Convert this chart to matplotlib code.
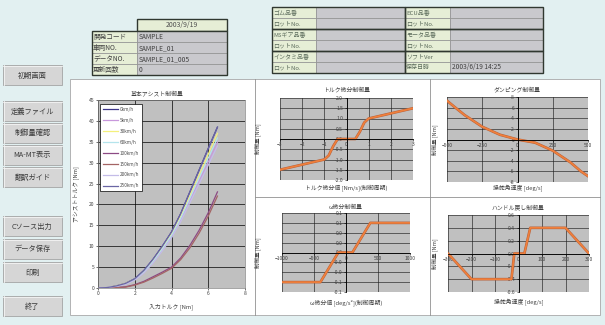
import matplotlib
matplotlib.use('Agg')
import matplotlib.pyplot as plt
import matplotlib.patheffects as pe
from matplotlib.patches import Rectangle
from matplotlib.ticker import FormatStrFormatter

plt.rcParams['font.family'] = ['Noto Sans CJK JP', 'DejaVu Sans']

W, H = 605, 325

# --- data -----------------------------------------------------------------
speed_labels = ['0km/h', '5km/h', '30km/h', '60km/h', '100km/h', '150km/h', '200km/h', '250km/h']
speed_colors = ['#3c3488', '#c898dc', '#f4f07c', '#b4e4ec', '#8c4a84', '#a46464', '#c4bce8', '#6a66a4']
input_torque = [0, 0.5, 1, 1.5, 2, 2.5, 3, 3.5, 4, 4.5, 5, 5.5, 6, 6.5]
assist_0 = [0, 0.1, 0.5, 1.1, 2.2, 4.2, 6.9, 10.0, 13.4, 17.8, 23.0, 28.2, 33.4, 38.5]
assist_5 = [0, 0.1, 0.4, 1.0, 2.0, 3.8, 6.3, 9.2, 12.4, 16.4, 21.0, 25.6, 30.2, 34.9]
assist_30 = [0, 0.1, 0.5, 1.1, 2.1, 4.0, 6.6, 9.6, 12.9, 17.1, 22.0, 27.0, 32.0, 37.0]
assist_60 = [0, 0.1, 0.4, 1.0, 2.0, 3.9, 6.4, 9.4, 12.6, 16.7, 21.5, 26.3, 31.1, 35.9]
assist_100 = [0, 0, 0.1, 0.3, 0.8, 1.6, 2.7, 3.8, 5.0, 7.2, 10.2, 13.8, 18.0, 23.0]
assist_150 = [0, 0, 0.1, 0.2, 0.7, 1.4, 2.4, 3.5, 4.7, 6.8, 9.6, 13.1, 17.2, 22.0]
assist_200 = [0, 0.1, 0.4, 0.9, 1.9, 3.6, 6.0, 8.9, 12.0, 15.9, 20.4, 24.9, 29.4, 34.0]
assist_250 = [0, 0.1, 0.5, 1.1, 2.2, 4.2, 6.9, 10.0, 13.4, 17.8, 23.0, 28.2, 33.4, 38.5]
assist_series = [assist_0, assist_5, assist_30, assist_60, assist_100, assist_150, assist_200, assist_250]

torque_rate = [-3, -2, -1, -0.8, -0.6, -0.4, 0.4, 0.6, 0.8, 1, 2, 3]
torque_rate_ctrl = [-1.5, -1.25, -1.0, -0.8, -0.35, 0, 0, 0.35, 0.8, 1.0, 1.25, 1.5]

damp_speed = [-500, -450, -375, -250, -125, 0, 125, 250, 375, 450, 500]
damp_ctrl = [7.3, 6.2, 4.6, 2.4, 0.9, 0, -0.6, -2.1, -4.3, -6.0, -6.9]

omega_rate = [-1000, -400, -120, 100, 380, 1000]
omega_ctrl = [-0.06, -0.06, 0, 0, 0.06, 0.06]

return_speed = [-300, -200, -30, -18, 25, 50, 200, 300]
return_ctrl = [0, -0.4, -0.4, 0, 0, 0.4, 0.4, 0]

header_rows = ['開発コード', '車両NO.', 'データNO.', '更新回数']
header_vals = ['SAMPLE', 'SAMPLE_01', 'SAMPLE_01_005', '0']
parts_left = ['ゴム品番', 'ロットNo.', 'MSギア品番', 'ロットNo.', 'インタミ品番', 'ロットNo.']
parts_right = ['ECU品番', 'ロットNo.', 'モータ品番', 'ロットNo.', 'ソフトVer', '保存日時']
parts_right_vals = ['', '', '', '', '', '2003/6/19 14:25']
buttons = ['初期画面', '定義ファイル', '制御量確認', 'MA-MT表示', '翻訳ガイド',
           'Cソース出力', 'データ保存', '印刷', '終了']
button_y = [65, 101, 123, 145, 167, 216, 239, 262, 296]


def rect(x0, y0, x1, y1):
    return [x0 / W, 1 - y1 / H, (x1 - x0) / W, (y1 - y0) / H]


fig = plt.figure(figsize=(6.05, 3.25), dpi=100, facecolor='#e2f0f1')

# overlay in pixel coordinates for the form elements
ui = fig.add_axes([0, 0, 1, 1])
ui.set_xlim(0, W)
ui.set_ylim(H, 0)
ui.axis('off')

LABEL_BG = '#e6eed6'
VALUE_BG = '#c9c9cd'

# date + header table
ui.add_patch(Rectangle((137, 19), 90, 12, fc=LABEL_BG, ec='#303830', lw=1.0))
ui.text(182, 25, '2003/9/19', ha='center', va='center', fontsize=5, color='#505050')
for i, (lab, val) in enumerate(zip(header_rows, header_vals)):
    y = 31 + i * 11
    ui.add_patch(Rectangle((92, y), 45, 11, fc=LABEL_BG, ec='#909090', lw=0.5))
    ui.add_patch(Rectangle((137, y), 90, 11, fc=VALUE_BG, ec='#909090', lw=0.5))
    ui.text(93, y + 5.8, lab, ha='left', va='center', fontsize=4.8, color='#404040')
    ui.text(139, y + 5.8, val, ha='left', va='center', fontsize=4.8, color='#404040')
ui.add_patch(Rectangle((92, 31), 135, 44, fc='none', ec='#303830', lw=1.0))

# parts table
for i in range(6):
    y = 6.7 + i * 11
    for x0, w, fc in [(272, 44, LABEL_BG), (316, 89, VALUE_BG), (405, 45, LABEL_BG), (450, 93, VALUE_BG)]:
        ui.add_patch(Rectangle((x0, y), w, 11, fc=fc, ec='#909090', lw=0.5))
    ui.text(273, y + 5.8, parts_left[i], ha='left', va='center', fontsize=4.3, color='#5a6a5a')
    ui.text(406, y + 5.8, parts_right[i], ha='left', va='center', fontsize=4.3, color='#5a6a5a')
    if parts_right_vals[i]:
        ui.text(452, y + 5.8, parts_right_vals[i], ha='left', va='center', fontsize=4.8, color='#404040')
for k in range(3):
    ui.add_patch(Rectangle((272, 6.7 + k * 22), 133, 22, fc='none', ec='#303830', lw=1.0))
    ui.add_patch(Rectangle((405, 6.7 + k * 22), 138, 22, fc='none', ec='#303830', lw=1.0))

# buttons on the left
for lab, y in zip(buttons, button_y):
    ui.add_patch(Rectangle((3, y), 59, 20, fc='#d6d6d6', ec='#a4a4a4', lw=0.6))
    ui.plot([3, 62], [y + 0.6, y + 0.6], color='#f4f4f4', lw=0.6)
    ui.plot([3.6, 3.6], [y, y + 20], color='#f4f4f4', lw=0.6)
    ui.text(32.5, y + 10.5, lab, ha='center', va='center', fontsize=5.2, color='#3a3a3a')

# chart panel
ui.add_patch(Rectangle((70, 79), 530, 236, fc='white', ec='#a8a8a8', lw=0.6))
ui.plot([255, 255], [79, 315], color='#909090', lw=0.6)
ui.plot([430, 430], [79, 315], color='#909090', lw=0.6)
ui.plot([255, 600], [197, 197], color='#909090', lw=0.6)

TICK_KW = dict(labelsize=3.6, labelcolor='#404040', length=1.5, width=0.4, pad=1)

# main assist chart
ax = fig.add_axes(rect(98, 100, 245, 288))
ax.set_facecolor('#c0c0c0')
for lab, col, ys in zip(speed_labels, speed_colors, assist_series):
    ax.plot(input_torque, ys, color=col, lw=0.9, label=lab)
ax.set_xlim(0, 8)
ax.set_ylim(0, 45)
ax.set_xticks(range(0, 9, 2))
ax.set_yticks(range(0, 46, 5))
ax.grid(True, color='black', lw=0.5)
ax.tick_params(**TICK_KW)
for s in ax.spines.values():
    s.set_color('#808080')
    s.set_linewidth(0.5)
leg = ax.legend(loc='upper left', bbox_to_anchor=(0.0, 0.99), fontsize=3.4, frameon=True,
                fancybox=False, edgecolor='black', framealpha=1, handlelength=3.2,
                labelspacing=1.25, borderpad=0.6, handletextpad=0.3)
leg.get_frame().set_linewidth(0.5)
for t in leg.get_texts():
    t.set_color('#505050')
fig.text(157 / W, 1 - 93 / H, '基本アシスト制御量', ha='center', va='center', fontsize=4.2, color='#404040')
fig.text(171 / W, 1 - 307 / H, '入力トルク [Nm]', ha='center', va='center', fontsize=4.2, color='#404040')
fig.text(77 / W, 1 - 194 / H, 'アシストトルク [Nm]', ha='center', va='center', rotation=90,
         fontsize=4.2, color='#404040')


def small_chart(box, title, title_y, xlabel, xlabel_y, ylab_x, xs, ys,
                xlim, xticks, ylim, yticks, yfmt):
    x0, y0, x1, y1 = box
    a = fig.add_axes(rect(x0, y0, x1, y1))
    a.set_facecolor('#c0c0c0')
    a.set_xlim(*xlim)
    a.set_ylim(*ylim)
    a.set_xticks(xticks)
    a.set_yticks(yticks)
    a.yaxis.set_major_formatter(FormatStrFormatter(yfmt))
    a.grid(True, color='#202020', lw=0.45)
    a.spines['left'].set_position(('data', 0))
    a.spines['bottom'].set_position(('data', 0))
    a.spines['top'].set_visible(False)
    a.spines['right'].set_visible(False)
    for s in ('left', 'bottom'):
        a.spines[s].set_linewidth(0.6)
    a.tick_params(**TICK_KW)
    a.plot(xs, ys, color='#f0803c', lw=1.2,
           path_effects=[pe.Stroke(linewidth=1.9, foreground='#b8603a'), pe.Normal()])
    cx = (x0 + x1) / 2
    fig.text(cx / W, 1 - title_y / H, title, ha='center', va='center', fontsize=4.2, color='#404040')
    fig.text(cx / W, 1 - xlabel_y / H, xlabel, ha='center', va='center', fontsize=4.2, color='#404040')
    fig.text(ylab_x / W, 1 - ((y0 + y1) / 2) / H, '制御量 [Nm]', ha='center', va='center',
             rotation=90, fontsize=4.0, color='#404040')
    return a


small_chart((280, 98, 413, 180), 'トルク微分制御量', 90, 'トルク微分値 [Nm/s](制御周期)', 188, 258,
            torque_rate, torque_rate_ctrl, (-3, 3), range(-3, 4),
            (-2, 2), [-2 + 0.5 * k for k in range(9)], '%.1f')
small_chart((447, 97, 588, 182), 'ダンピング制御量', 90, '操舵角速度 [deg/s]', 188, 435,
            damp_speed, damp_ctrl, (-500, 500), range(-500, 501, 250),
            (-8, 8), range(-8, 9, 2), '%d')
small_chart((282, 213, 410, 292), 'ω微分制御量', 207, 'ω微分値 [deg/s²](制御周期)', 303, 258,
            omega_rate, omega_ctrl, (-1000, 1000), range(-1000, 1001, 500),
            (-0.08, 0.08), [-0.08 + 0.02 * k for k in range(9)], '%.1f')
small_chart((448, 215, 589, 292), 'ハンドル戻し制御量', 207, '操舵角速度 [deg/s]', 303, 435,
            return_speed, return_ctrl, (-300, 300), range(-300, 301, 100),
            (-0.6, 0.6), [-0.6 + 0.2 * k for k in range(7)], '%.1f')

fig.savefig('out.png', dpi=100, facecolor=fig.get_facecolor())
